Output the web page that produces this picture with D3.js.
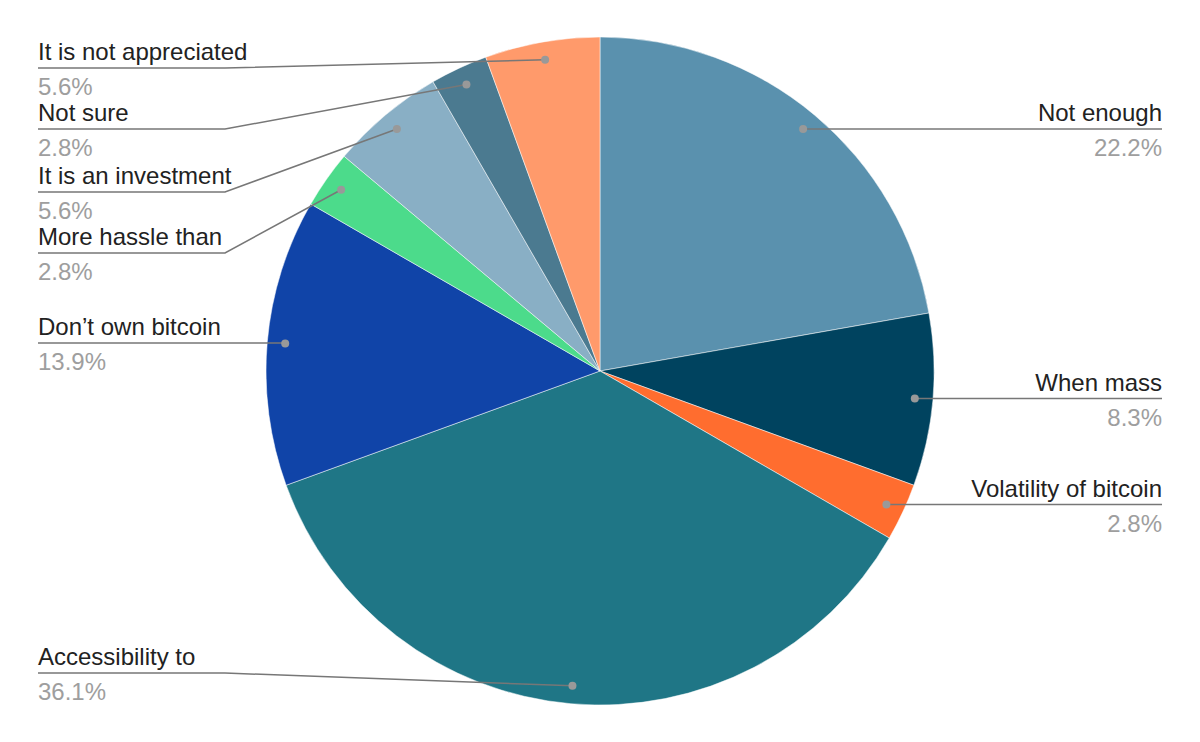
<!DOCTYPE html>
<html><head><meta charset="utf-8">
<script src="https://cdn.jsdelivr.net/npm/d3@7"></script>
<style>body{margin:0;background:#fff}svg{display:block}</style>
</head><body>
<script>
const categories = ["Not enough","When mass","Volatility of bitcoin","Accessibility to","Don\u2019t own bitcoin","More hassle than","It is an investment","Not sure","It is not appreciated"];
const counts = [8,3,1,13,5,1,2,1,2];
const colors = ["#5a91ae","#00435f","#ff6d2f","#1f7686","#1044a8","#4cdb8b","#89afc5","#4b7a90","#ff9a6b"];
// label layout (line y, side)
const labelLineY = [128,398,505,673,343,253,192,129,68];
const labelSide = ["R","R","R","L","L","L","L","L","L"];

const W=1200,H=742,cx=600,cy=371,R=334,dotR=316;
const svg=d3.select("body").append("svg").attr("width",W).attr("height",H);
const total=d3.sum(counts);
const pie=d3.pie().sort(null).value(d=>d)(counts);
const arc=d3.arc().innerRadius(0).outerRadius(R);
const dotArc=d3.arc().innerRadius(dotR).outerRadius(dotR);
const g=svg.append("g").attr("transform",`translate(${cx},${cy})`);
g.selectAll("path").data(pie).join("path").attr("d",arc).attr("fill",(d,i)=>colors[i]).attr("stroke","#fff").attr("stroke-width",0.5);

const fmt=d3.format(".1%");
const font="'Liberation Sans', Arial, sans-serif";
pie.forEach((d,i)=>{
  const [dx,dy]=dotArc.centroid(d);
  const px=cx+dx,py=cy+dy,ly=labelLineY[i];
  let pts;
  if(labelSide[i]==="R"){
    pts=[[px,py],[1162,py]];
  } else {
    pts=[[px,py],[ly===343?px:225,ly],[38,ly]];
  }
  const ty = labelSide[i]==="R"?py:ly;
  svg.append("path").attr("d",d3.line()(pts)).attr("fill","none").attr("stroke","#777").attr("stroke-width",1.5);
  svg.append("circle").attr("cx",px).attr("cy",py).attr("r",4).attr("fill","#999");
  const x = labelSide[i]==="R"?1162:38, anchor=labelSide[i]==="R"?"end":"start";
  svg.append("text").attr("x",x).attr("y",ty-8).attr("text-anchor",anchor).attr("font-family",font).attr("font-size",24).attr("fill","#222").text(categories[i]);
  svg.append("text").attr("x",x).attr("y",ty+27).attr("text-anchor",anchor).attr("font-family",font).attr("font-size",24).attr("fill","#9e9e9e").text(fmt(counts[i]/total));
});
</script>
</body></html>
